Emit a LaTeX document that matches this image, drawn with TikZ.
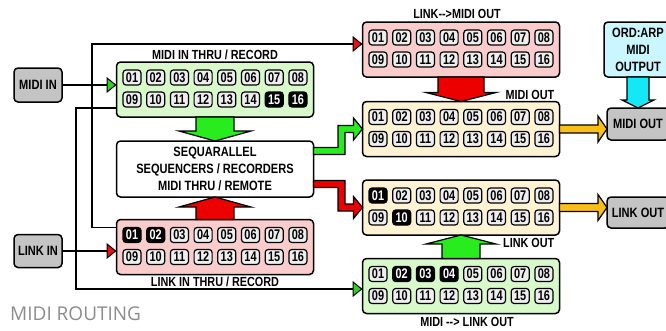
\documentclass[tikz,border=0pt]{standalone}
\usepackage{fontspec}
\setmainfont{Liberation Sans}
\newfontfamily\boxfont[FakeStretch=0.82]{Liberation Sans}
\newfontfamily\chanfont[FakeStretch=0.78]{Liberation Sans}
\newfontfamily\titlefont{Open Sans}
\usetikzlibrary{positioning,calc,arrows.meta}

\definecolor{thrugreen}{RGB}{216,250,202}
\definecolor{thrupink}{RGB}{250,204,204}
\definecolor{outcream}{RGB}{255,243,212}
\definecolor{boxgray}{RGB}{196,196,196}
\definecolor{arpcyan}{RGB}{202,246,255}
\definecolor{chanfill}{RGB}{238,238,238}
\definecolor{bgreen}{RGB}{40,236,30}
\definecolor{bred}{RGB}{236,0,0}
\definecolor{borange}{RGB}{250,190,20}
\definecolor{bcyan}{RGB}{20,232,246}
\definecolor{tipgreen}{RGB}{50,205,40}
\definecolor{tipred}{RGB}{220,20,20}
\definecolor{routegray}{RGB}{140,140,140}

\tikzset{
  box/.style={draw, line width=1.5pt, rounded corners=4pt, inner sep=0pt, outer sep=0pt,
    align=center, font=\boxfont\bfseries\fontsize{13.5}{17}\selectfont},
  gbox/.style={box, fill=boxgray},
  chanbox/.style={box, minimum width=197pt, minimum height=55pt},
  chan/.style={draw, line width=1.2pt, rounded corners=3pt, minimum width=18pt,
    minimum height=15pt, inner sep=0pt, outer sep=0pt,
    font=\chanfont\bfseries\fontsize{14}{14}\selectfont},
  lbl/.style={inner sep=0pt, font=\boxfont\bfseries\fontsize{13.2}{14}\selectfont},
  wire/.style={line width=1.8pt},
  gtip/.style={-{Triangle[length=10pt,width=16pt,line width=1pt,fill=tipgreen]}},
  rtip/.style={-{Triangle[length=10pt,width=16pt,line width=1pt,fill=tipred]}},
  block/.style={line width=1.2pt, line join=miter}
}

% 16 channel buttons of a box, dark ones listed in #2
\makeatletter
\newcommand{\channels}[2]{%
  \foreach \n in {1,...,16}{%
    \pgfmathtruncatemacro{\cx}{mod(\n-1,8)}%
    \pgfmathtruncatemacro{\cy}{(\n-1)/8}%
    \edef\num{\ifnum\n<10 0\fi\n}%
    \edef\tmp{\noexpand\in@{,\n,}{,#2,}}\tmp
    \ifin@\def\chbg{black}\def\chfg{white}\else\def\chbg{chanfill}\def\chfg{black}\fi
    \node[chan, fill=\chbg, text=\chfg] (#1-\n) at ($(#1.north west)+(15.5+23.7*\cx,15.5+22*\cy)$) {\num};
  }}
\makeatother

% straight block arrows: tail, tip, shaft half, head half, head length, colour
\newcommand{\vblock}[6]{%
  \filldraw[block, fill=#6] let \p1=(#1), \p2=(#2), \n1={ifthenelse(\y2>\y1,#5,-#5)} in
    (\x1-#3,\y1) -- (\x1-#3,\y2-\n1) -- (\x1-#4,\y2-\n1) -- (\x1,\y2)
    -- (\x1+#4,\y2-\n1) -- (\x1+#3,\y2-\n1) -- (\x1+#3,\y1) -- cycle;}
\newcommand{\hblock}[6]{%
  \filldraw[block, fill=#6] let \p1=(#1), \p2=(#2), \n1={ifthenelse(\x2>\x1,#5,-#5)} in
    (\x1,\y1-#3) -- (\x2-\n1,\y1-#3) -- (\x2-\n1,\y1-#4) -- (\x2,\y1)
    -- (\x2-\n1,\y1+#4) -- (\x2-\n1,\y1+#3) -- (\x1,\y1+#3) -- cycle;}
% stepped block arrow: tail, tip, colour
\newcommand{\zblock}[3]{%
  \filldraw[block, fill=#3] let \p1=(#1), \p2=(#2), \n1={ifthenelse(\y2>\y1,3.5,-3.5)} in
    (\x1,\y1+3.5) -- (\x1+28-\n1,\y1+3.5) -- (\x1+28-\n1,\y2+3.5) -- (\x2-9,\y2+3.5)
    -- (\x2-9,\y2+11) -- (\x2,\y2) -- (\x2-9,\y2-11) -- (\x2-9,\y2-3.5)
    -- (\x1+28+\n1,\y2-3.5) -- (\x1+28+\n1,\y1-3.5) -- (\x1,\y1-3.5) -- cycle;}

\begin{document}
\begin{tikzpicture}[x=1pt,y=-1pt]
\useasboundingbox (0,0) rectangle (666,330);
% boxes
\node[gbox, minimum width=48pt, minimum height=34pt] (midiin) at (38,85) {MIDI IN};
\node[gbox, minimum width=48pt, minimum height=33pt] (linkin) at (38,251) {LINK IN};
\node[chanbox, fill=thrugreen] (thruin) at (215,89.5) {};
\node[box, fill=white, minimum width=197pt, minimum height=56pt] (seq) at (215,169)
  {SEQUARALLEL\\SEQUENCERS / RECORDERS\\MIDI THRU / REMOTE};
\node[chanbox, fill=thrupink] (linkthru) at (215,247) {};
\node[chanbox, fill=thrupink] (l2m) at (461,49.5) {};
\node[chanbox, fill=outcream] (midiout) at (461,129) {};
\node[chanbox, fill=outcream] (linkout) at (461,207.5) {};
\node[chanbox, fill=thrugreen] (m2l) at (461,286) {};
\node[box, fill=arpcyan, minimum width=68pt, minimum height=55pt] (ordarp) at (638,49.5)
  {ORD:ARP\\MIDI\\OUTPUT};
\node[gbox, minimum width=62pt, minimum height=32pt] (gmidiout) at (638,124) {MIDI OUT};
\node[gbox, minimum width=62pt, minimum height=31pt] (glinkout) at (638,212.5) {LINK OUT};
% channels
\channels{thruin}{15,16}
\channels{linkthru}{1,2}
\channels{l2m}{}
\channels{midiout}{}
\channels{linkout}{1,10}
\channels{m2l}{2,3,4}
% labels
\node[lbl, above=2.5pt of thruin] (thruinlbl) {MIDI IN THRU / RECORD};
\node[lbl, below=2pt of linkthru] (linkthrulbl) {LINK IN THRU / RECORD};
\node[lbl, above=3pt of l2m, xshift=-4pt] (l2mlbl) {LINK-{}->MIDI OUT};
\node[lbl, above left=2pt and 5pt of midiout.north east] (midioutlbl) {MIDI OUT};
\node[lbl, below left=3pt and 5pt of linkout.south east] (linkoutlbl) {LINK OUT};
\node[lbl, below=3.5pt of m2l, xshift=6pt] (m2llbl) {MIDI -{}-> LINK OUT};
\node[anchor=west, inner sep=0pt, text=routegray, font=\titlefont\fontsize{19}{19}\selectfont]
  (title) at (10,314) {MIDI ROUTING};
% thin connectors
\coordinate (midithru) at ($(thruin.south west)+(0,-9)$);
\coordinate (midicorner) at (76,289);
\coordinate (linktap) at ($(linkthru.north west)+(0,8)$);
\coordinate (linkcorner) at (92,44);
\draw[wire, gtip] (midiin.east) -- (midiin.east -| thruin.west);
\draw[wire, rtip] (linkin.east) -- (linkin.east -| linkthru.west);
\draw[wire, gtip] (midithru) -| (midicorner) -- (midicorner -| m2l.west);
\draw[wire, rtip] (linktap) -| (linkcorner) -- (linkcorner -| l2m.west);
% block arrows
\vblock{thruin.south}{seq.north}{19}{36}{10}{bgreen}
\vblock{linkthru.north}{seq.south}{19}{36}{10}{bred}
\vblock{l2m.south}{midiout.north}{23}{35}{9}{bred}
\vblock{m2l.north}{linkout.south}{19}{35}{9}{bgreen}
\vblock{ordarp.south}{gmidiout.north}{11}{16}{8}{bcyan}
\hblock{midiout.east}{midiout.east -| gmidiout.west}{4}{13}{9}{borange}
\hblock{linkout.east}{linkout.east -| glinkout.west}{4}{13}{9}{borange}
\zblock{$(seq.east)+(0,-18)$}{midiout.west}{bgreen}
\zblock{$(seq.east)+(0,15)$}{linkout.west}{bred}
\end{tikzpicture}
\end{document}
